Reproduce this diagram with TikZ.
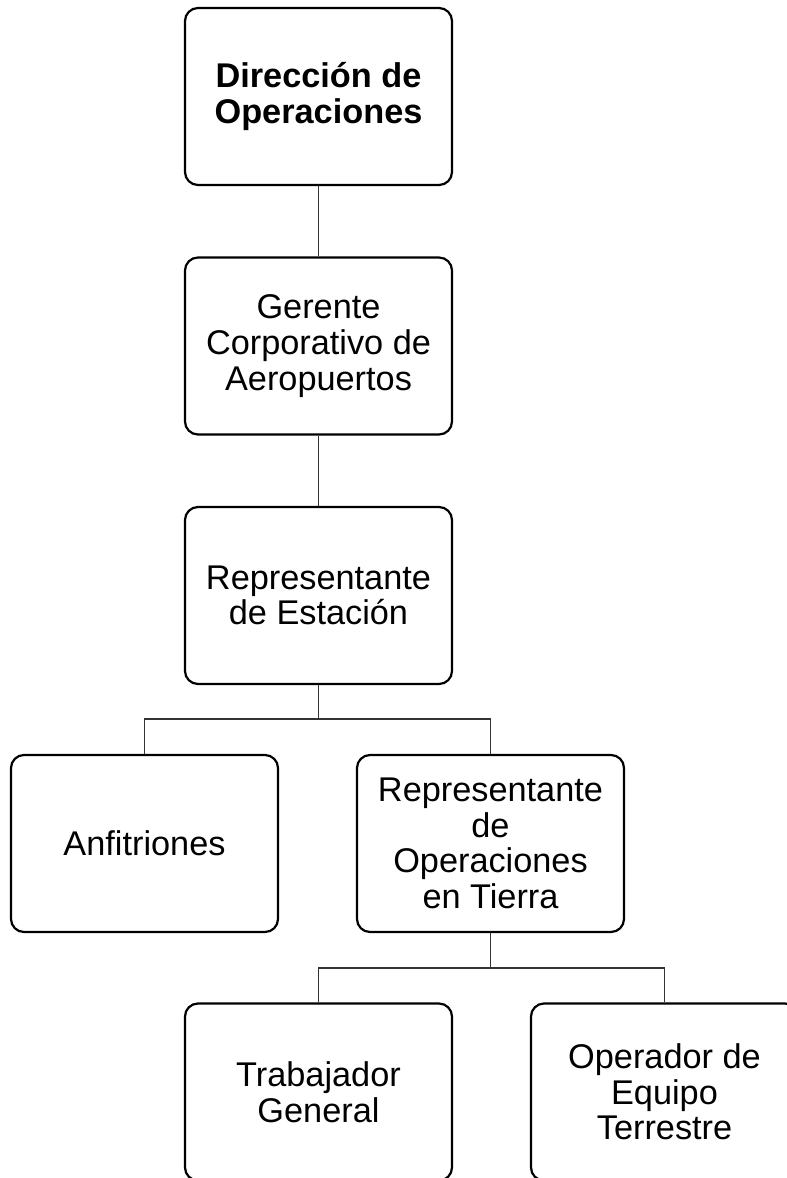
\documentclass[tikz,border=0pt]{standalone}
\usepackage{fontspec}
\setmainfont{Liberation Sans}
\usepackage{tikz}

\tikzset{
  puesto/.style={draw, line width=2.2pt, rounded corners=13pt,
    minimum width=267pt, minimum height=177pt, inner sep=0pt,
    align=center, font=\fontsize{34.3}{35.6}\selectfont},
  enlace/.style={line width=1.2pt, black!80}
}

\begin{document}
\begin{tikzpicture}[x=1pt,y=-1pt]
    \useasboundingbox (0,0) rectangle (787,1178);
    \clip (0,0) rectangle (787,1178);
    \node[puesto] (dir) at (318.5,96.5) {\textbf{Dirección de}\\\textbf{Operaciones}};
    \node[puesto] (ger) at (318.5,346) {Gerente\\Corporativo de\\Aeropuertos};
    \node[puesto] (rep) at (318.5,595.5) {Representante\\de Estación};
    %
    \node[puesto] (anf) at (144.5,843.5) {Anfitriones};
    \node[puesto] (rop) at (490.5,843.5) {Representante\\de\\Operaciones\\en Tierra};
    %
    \node[puesto] (trab) at (318.5,1092) {Trabajador\\General};
    \node[puesto] (oper) at (664.5,1092) {Operador de\\Equipo\\Terrestre};
    %
    \coordinate (j1) at (318.5,719);
    \coordinate (j2) at (490.5,968);
    \draw[enlace] (dir.south) -- (ger.north);
    \draw[enlace] (ger.south) -- (rep.north);
    \draw[enlace] (rep.south) -- (j1);
    \draw[enlace] (j1) -| (anf.north);
    \draw[enlace] (j1) -| (rop.north);
    \draw[enlace] (rop.south) -- (j2);
    \draw[enlace] (j2) -| (trab.north);
    \draw[enlace] (j2) -| (oper.north);
\end{tikzpicture}
\end{document}
